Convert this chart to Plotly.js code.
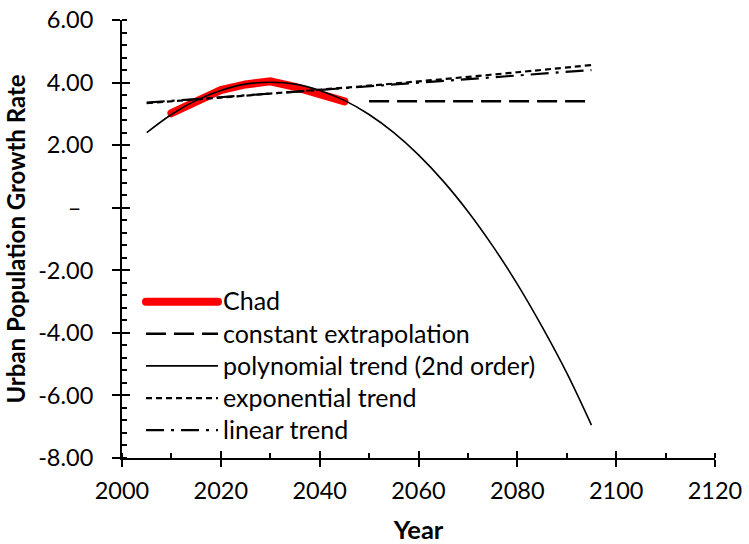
<!DOCTYPE html>
<html>
<head>
<meta charset="utf-8">
<script src="https://cdn.plot.ly/plotly-3.0.1.min.js"></script>
<style>
  html, body { margin: 0; padding: 0; background: #fff; }
  #chart { width: 749px; height: 544px; }
  path[style*="stroke: rgb(255, 0, 0)"] { stroke-linecap: round; }
</style>
</head>
<body>
<div id="chart"></div>
<script>
// ---- data ----
const chadYears = [2010, 2015, 2020, 2025, 2030, 2035, 2040, 2045];
const chadRate  = [3.02, 3.38, 3.76, 3.94, 4.04, 3.86, 3.62, 3.40];

const constYears = [2050, 2095];
const constRate  = [3.40, 3.40];

const polyYears = [2005, 2010, 2015, 2020, 2025, 2030, 2035, 2040, 2045, 2050,
                   2055, 2060, 2065, 2070, 2075, 2080, 2085, 2090, 2095];
const polyRate  = [2.40, 2.98, 3.43, 3.75, 3.95, 4.01, 3.95, 3.75, 3.43, 2.98,
                   2.40, 1.69, 0.85, -0.12, -1.22, -2.44, -3.80, -5.28, -6.95];

const expYears = [2005, 2020, 2035, 2050, 2065, 2080, 2095];
const expRate  = [3.34, 3.52, 3.71, 3.90, 4.11, 4.33, 4.56];

const linYears = [2005, 2095];
const linRate  = [3.36, 4.40];

const seriesNames = ['Chad', 'constant extrapolation', 'polynomial trend (2nd order)',
                     'exponential trend', 'linear trend'];

const yTickVals = [-8, -6, -4, -2, 0, 2, 4, 6];
const yTickText = ['-8.00', '-6.00', '-4.00', '-2.00', '\u2013\u00a0\u00a0', '2.00', '4.00', '6.00'];
const xTickVals = [2000, 2020, 2040, 2060, 2080, 2100, 2120];
const xTickText = ['2000', '2020', '2040', '2060', '2080', '2100', '2120'];

const FONT = 'Lato, "Open Sans", sans-serif';
const legendLabel = s => '<span style="font-size:25px">' + s + '</span>';

const traces = [
  { x: chadYears, y: chadRate, name: legendLabel(seriesNames[0]), mode: 'lines',
    line: { color: 'rgb(255,0,0)', width: 8 } },
  { x: constYears, y: constRate, name: legendLabel(seriesNames[1]), mode: 'lines',
    line: { color: '#000', width: 2.5, dash: '20px,8px' } },
  { x: polyYears, y: polyRate, name: legendLabel(seriesNames[2]), mode: 'lines',
    line: { color: '#000', width: 1.6, shape: 'spline', smoothing: 1 } },
  { x: expYears, y: expRate, name: legendLabel(seriesNames[3]), mode: 'lines',
    line: { color: '#000', width: 2.2, dash: '6px,4px', shape: 'spline' } },
  { x: linYears, y: linRate, name: legendLabel(seriesNames[4]), mode: 'lines',
    line: { color: '#000', width: 2.2, dash: '18px,7px,3px,7px' } },
  { x: [], y: [], xaxis: 'x2', yaxis: 'y2', showlegend: false, hoverinfo: 'skip' }
];

const axisCommon = {
  showgrid: false, zeroline: false, showline: true,
  linecolor: '#000', linewidth: 2,
  tickcolor: '#000', tickwidth: 2,
  tickfont: { family: FONT, size: 23.5, color: '#000' }
};

const layout = {
  width: 749, height: 544,
  margin: { l: 122, r: 34, t: 20, b: 86, pad: 0 },
  paper_bgcolor: '#fff', plot_bgcolor: '#fff',
  showlegend: true,
  legend: {
    x: 0.032, y: 0.405, xanchor: 'left', yanchor: 'top',
    bgcolor: 'rgba(0,0,0,0)', borderwidth: 0,
    itemwidth: 72,
    font: { family: FONT, size: 22.4, color: '#000' },
    traceorder: 'normal'
  },
  xaxis: Object.assign({}, axisCommon, {
    range: [2000, 2120], tickmode: 'array', tickvals: xTickVals, ticktext: xTickText,
    ticks: 'outside', ticklen: 7, ticklabelstandoff: 4,
    minor: { tickmode: 'linear', tick0: 2000, dtick: 10, ticks: 'inside', ticklen: 5, tickwidth: 2, tickcolor: '#000' },
    title: { text: '<b>Year</b>', font: { family: FONT, size: 25.5, color: '#000' }, standoff: 20 }
  }),
  yaxis: Object.assign({}, axisCommon, {
    range: [-8, 6], tickmode: 'array', tickvals: yTickVals, ticktext: yTickText,
    ticks: 'outside', ticklen: 8, ticklabelstandoff: 14,
    minor: { tickmode: 'linear', tick0: -8, dtick: 0.4, ticks: 'inside', ticklen: 5, tickwidth: 2, tickcolor: '#000' },
    title: { text: '<b>Urban Population Growth Rate</b>', font: { family: FONT, size: 24, color: '#000' }, standoff: 6 }
  }),
  xaxis2: {
    overlaying: 'x', anchor: 'y', side: 'bottom', range: [2000, 2120],
    tickmode: 'array', tickvals: xTickVals, showticklabels: false,
    ticks: 'inside', ticklen: 7, tickwidth: 2, tickcolor: '#000',
    showgrid: false, zeroline: false, showline: false
  },
  yaxis2: {
    overlaying: 'y', anchor: 'x', side: 'left', range: [-8, 6],
    tickmode: 'array', tickvals: yTickVals, showticklabels: false,
    ticks: 'inside', ticklen: 8, tickwidth: 2, tickcolor: '#000',
    showgrid: false, zeroline: false, showline: false
  }
};

Plotly.newPlot('chart', traces, layout, { displayModeBar: false, staticPlot: true });
</script>
</body>
</html>
